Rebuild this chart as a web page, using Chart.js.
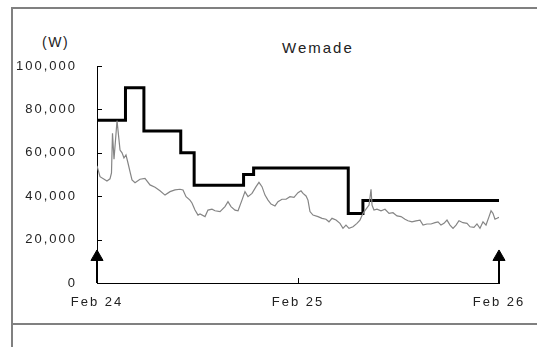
<!DOCTYPE html>
<html lang="en">
<head>
    <meta charset="UTF-8">
    <title>Wemade</title>
    <script src="https://cdn.jsdelivr.net/npm/chart.js"></script>
    <style>
        body {
            margin: 0;
            width: 537px;
            height: 347px;
            background: #fff;
            position: relative;
            overflow: hidden;
            font-family: "Liberation Sans", Arial, sans-serif;
        }
        .frame-top { position: absolute; left: 12px; top: 7px; width: 530px; height: 2px; background: #808080; }
        .frame-left { position: absolute; left: 11px; top: 7px; width: 2px; height: 345px; background: #808080; }
        .frame-mid { position: absolute; left: 12px; top: 323px; width: 530px; height: 2px; background: #808080; }
        .label {
            position: absolute;
            color: #222;
            white-space: nowrap;
            line-height: 1;
        }
        #chart { position: absolute; left: 0; top: 0; }
    </style>
</head>
<body>
<div class="frame-top"></div>
<div class="frame-left"></div>
<div class="frame-mid"></div>
<div class="label" style="left:42px; top:35px; font-size:14px; letter-spacing:1.5px;">(W)</div>
<div class="label" style="left:282px; top:40px; font-size:15px; letter-spacing:2px;">Wemade</div>
<canvas id="chart" width="537" height="347"></canvas>

<script>
    // hours after Feb 24 00:00
    const dateLabels = ['Feb 24', 'Feb 25', 'Feb 26'];

    const priceHours = [0, 0.36, 1.19, 1.55, 1.73, 1.85, 2.03, 2.39, 2.75, 2.99, 3.22, 3.46, 3.70, 3.94, 4.18, 4.54,
        5.13, 5.73, 6.33, 6.93, 7.52, 8.12, 8.72, 9.31, 9.91, 10.27, 10.63, 11.10, 11.34, 11.70, 12.06, 12.30,
        12.90, 13.25, 13.73, 14.09, 14.69, 15.28, 15.64, 16.00, 16.48, 16.84, 17.31, 17.67, 18.03, 18.51, 18.99,
        19.34, 19.70, 20.06, 20.42, 20.78, 21.25, 21.61, 22.09, 22.57, 23.04, 23.52, 24.00, 24.36, 24.60, 24.96,
        25.19, 25.43, 25.79, 26.39, 26.87, 27.34, 27.70, 28.06, 28.54, 29.01, 29.37, 29.73, 30.09, 30.57, 31.04,
        31.40, 31.76, 32.12, 32.48, 32.72, 32.84, 33.07, 33.43, 33.91, 34.39, 34.87, 35.34, 35.82, 36.30, 36.78,
        37.13, 37.61, 38.09, 38.57, 38.93, 39.40, 39.88, 40.36, 40.72, 41.07, 41.43, 41.79, 42.15, 42.51, 42.87,
        43.22, 43.70, 44.18, 44.54, 45.01, 45.37, 45.73, 46.09, 46.45, 46.81, 47.05, 47.28, 47.52, 47.76, 48.00];
    const priceValues = [54000, 49000, 47000, 48000, 50700, 69000, 57000, 74800, 61300, 60000, 57600, 59000, 55300, 51300, 47500, 46200,
        47800, 48200, 45200, 44100, 42500, 40500, 42100, 42900, 43200, 42900, 39800, 38200, 36900, 33600, 31300, 31800,
        30600, 33600, 34000, 33300, 32900, 35200, 37500, 35200, 33600, 33300, 38200, 42100, 39800, 41300, 44400,
        46400, 44400, 40500, 38200, 36400, 35500, 37500, 38600, 38600, 39800, 39500, 41600, 42500, 41300, 40100,
        38200, 32900, 31300, 30600, 29800, 29400, 28200, 29800, 29000, 27500, 25200, 26700, 25200, 25900, 27500,
        29000, 32100, 34000, 35900, 43200, 35900, 33600, 34000, 33300, 34000, 32100, 32400, 30900, 30600, 29400,
        28700, 28200, 28600, 29000, 26700, 27200, 27200, 27800, 28200, 26700, 27500, 29000, 26700, 25200, 26700,
        28700, 27800, 27500, 25900, 25600, 27200, 25200, 28200, 26700, 30600, 33300, 32100, 29400, 29800, 30300];

    const targetHours = [0, 3.4, 5.6, 10.0, 11.6, 17.5, 18.7, 30.0, 31.75, 48];
    const targetValues = [75000, 90000, 70000, 60000, 45000, 50000, 53000, 32000, 38000, 38000];

    const arrowHours = [0, 48];
    const arrowTop = 12000;

    const yTicks = [0, 20000, 40000, 60000, 80000, 100000];

    const toPoints = (xs, ys) => xs.map((x, i) => ({ x: x, y: ys[i] }));

    const FONT = { family: '"Liberation Sans", Arial, sans-serif', size: 13 };

    const spacing = {
        id: 'spacing',
        beforeLayout(c) { c.ctx.letterSpacing = '2px'; },
        beforeDraw(c) { c.ctx.letterSpacing = '2px'; }
    };

    // small inward tick marks
    const innerTicks = {
        id: 'innerTicks',
        afterDraw(c) {
            const ctx = c.ctx, x = c.scales.x, y = c.scales.y;
            ctx.save();
            ctx.strokeStyle = '#000';
            ctx.lineWidth = 1;
            ctx.beginPath();
            yTicks.forEach(v => {
                const py = Math.round(y.getPixelForValue(v)) + 0.5;
                ctx.moveTo(x.left, py);
                ctx.lineTo(x.left + 5, py);
            });
            const px = Math.round(x.getPixelForValue(24)) + 0.5;
            ctx.moveTo(px, y.bottom);
            ctx.lineTo(px, y.bottom - 5);
            ctx.stroke();
            ctx.restore();
        }
    };

    const arrowSets = arrowHours.map(h => ({
        data: [{ x: h, y: 0 }, { x: h, y: arrowTop }],
        borderColor: '#000',
        backgroundColor: '#000',
        borderWidth: 2,
        pointStyle: 'triangle',
        pointRadius: [0, 7],
        pointBorderWidth: 1,
        clip: false
    }));

    new Chart(document.getElementById('chart'), {
        type: 'line',
        data: {
            datasets: [
                {
                    label: 'Price',
                    data: toPoints(priceHours, priceValues),
                    borderColor: '#858585',
                    borderWidth: 1.2,
                    pointRadius: 0,
                    tension: 0
                },
                {
                    label: 'Target',
                    data: toPoints(targetHours, targetValues),
                    borderColor: '#000',
                    borderWidth: 3,
                    pointRadius: 0,
                    stepped: 'before',
                    clip: false
                },
                ...arrowSets
            ]
        },
        options: {
            responsive: false,
            animation: false,
            layout: { padding: { top: 66, right: 38, left: 0, bottom: 0 } },
            plugins: { legend: { display: false }, tooltip: { enabled: false } },
            scales: {
                x: {
                    type: 'linear',
                    min: 0,
                    max: 48,
                    afterBuildTicks: s => { s.ticks = [0, 24, 48].map(v => ({ value: v })); },
                    afterFit: s => { s.height = 64; },
                    grid: { display: false },
                    border: { display: true, color: '#000', width: 1 },
                    ticks: {
                        color: '#222',
                        font: FONT,
                        padding: 4,
                        maxRotation: 0,
                        callback: v => dateLabels[v / 24]
                    }
                },
                y: {
                    min: 0,
                    max: 100000,
                    afterBuildTicks: s => { s.ticks = yTicks.map(v => ({ value: v })); },
                    afterFit: s => { s.width = 97; },
                    grid: { display: false },
                    border: { display: true, color: '#000', width: 1 },
                    ticks: {
                        color: '#222',
                        font: FONT,
                        padding: 12,
                        callback: v => v.toLocaleString('en-US')
                    }
                }
            }
        },
        plugins: [spacing, innerTicks]
    });
</script>
</body>
</html>
